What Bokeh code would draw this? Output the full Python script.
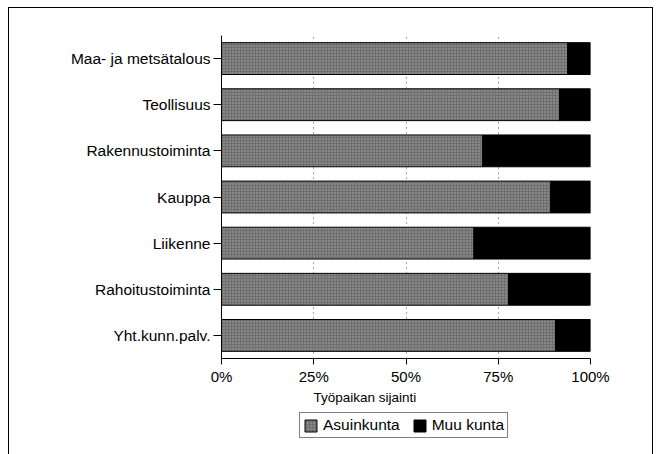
from bokeh.plotting import figure
from bokeh.layouts import column
from bokeh.models import (ColumnDataSource, FactorRange, Range1d, FixedTicker,
                          Legend, LegendItem, Title)
from bokeh.embed import file_html
from bokeh.resources import INLINE

categories = ["Maa- ja metsätalous", "Teollisuus", "Rakennustoiminta", "Kauppa",
              "Liikenne", "Rahoitustoiminta", "Yht.kunn.palv."]
asuinkunta = [93.8, 91.6, 70.8, 89.2, 68.4, 77.8, 90.5]
muu_kunta = [6.2, 8.4, 29.2, 10.8, 31.6, 22.2, 9.5]
x_ticks = [0, 25, 50, 75, 100]
x_tick_labels = ["0%", "25%", "50%", "75%", "100%"]
series_names = ["Asuinkunta", "Muu kunta"]
axis_title = "Työpaikan sijainti"

FONT = "Liberation Sans"
GRAY = dict(fill_color="#6e6e6e", line_color="black", line_width=1,
            hatch_pattern="dot", hatch_color="white", hatch_alpha=0.45, hatch_scale=3)
BLACK = dict(fill_color="black", line_color="black", line_width=1)

src = ColumnDataSource(dict(cat=categories, a=asuinkunta, m=muu_kunta,
                            a0=[0] * len(categories),
                            mend=[a + m for a, m in zip(asuinkunta, muu_kunta)]))

p = figure(width=643, height=402, output_backend="svg", toolbar_location=None,
           y_range=FactorRange(*reversed(categories), range_padding=0),
           x_range=Range1d(0, 100),
           min_border_left=212, min_border_right=62, min_border_top=27,
           min_border_bottom=52)

p.hbar(y="cat", left="a0", right="a", height=0.69, source=src, **GRAY)
p.hbar(y="cat", left="a", right="mend", height=0.69, source=src, **BLACK)

p.outline_line_color = None
p.ygrid.grid_line_color = None
p.xgrid.ticker = FixedTicker(ticks=x_ticks)
p.xgrid.grid_line_color = "black"
p.xgrid.grid_line_dash = "1 4"
p.xgrid.grid_line_alpha = 0.7

p.xaxis.ticker = FixedTicker(ticks=x_ticks)
p.xaxis.major_label_overrides = {t: l for t, l in zip(x_ticks, x_tick_labels)}
p.xaxis.major_label_text_font = FONT
p.xaxis.major_label_text_font_size = "15px"
p.xaxis.major_label_text_color = "black"
p.xaxis.major_label_standoff = 3
p.xaxis.major_tick_out = 6
p.xaxis.major_tick_in = 0
p.xaxis.minor_tick_line_color = None
p.xaxis.axis_line_color = "black"
p.xaxis.major_tick_line_color = "black"

p.yaxis.major_label_text_font = FONT
p.yaxis.major_label_text_font_size = "15.5px"
p.yaxis.major_label_text_color = "black"
p.yaxis.major_tick_out = 8
p.yaxis.major_tick_in = 0
p.yaxis.major_label_standoff = 3
p.yaxis.axis_line_color = "black"
p.yaxis.major_tick_line_color = "black"

title = Title(text=axis_title, align="left", offset=92,
              text_font=FONT, text_font_size="13.5px", text_font_style="normal",
              text_color="black", standoff=0)
p.add_layout(title, "below")

# legend strip below the chart (its frame lines up with the chart's frame);
# the legend renderers share the data but are hidden, only their legend swatches show
lf = figure(width=643, height=44, output_backend="svg", toolbar_location=None,
            x_range=Range1d(0, 100), y_range=FactorRange(*categories),
            x_axis_location=None, y_axis_location=None,
            min_border_left=0, min_border_right=0, min_border_top=0, min_border_bottom=0)
lf.outline_line_color = None
lf.grid.visible = False
g1 = lf.hbar(y="cat", left="a0", right="a", height=0.69, source=src, **GRAY)
g2 = lf.hbar(y="cat", left="a", right="mend", height=0.69, source=src, **BLACK)
g1.visible = False
g2.visible = False
legend = Legend(items=[LegendItem(label=series_names[0], renderers=[g1], index=0),
                       LegendItem(label=series_names[1], renderers=[g2], index=0)],
                orientation="horizontal", location=(78, 16),
                label_text_font=FONT, label_text_font_size="15.5px",
                label_text_color="black", glyph_width=15, glyph_height=15,
                label_standoff=5, spacing=12, padding=3, margin=0,
                border_line_color="black", border_line_width=1.5,
                inactive_fill_alpha=0.0)
lf.add_layout(legend)

layout = column(p, lf, spacing=0, margin=(7, 0, 0, 8),
                styles={"border": "1.5px solid black"})

open("out.html", "w").write(file_html(layout, INLINE))
